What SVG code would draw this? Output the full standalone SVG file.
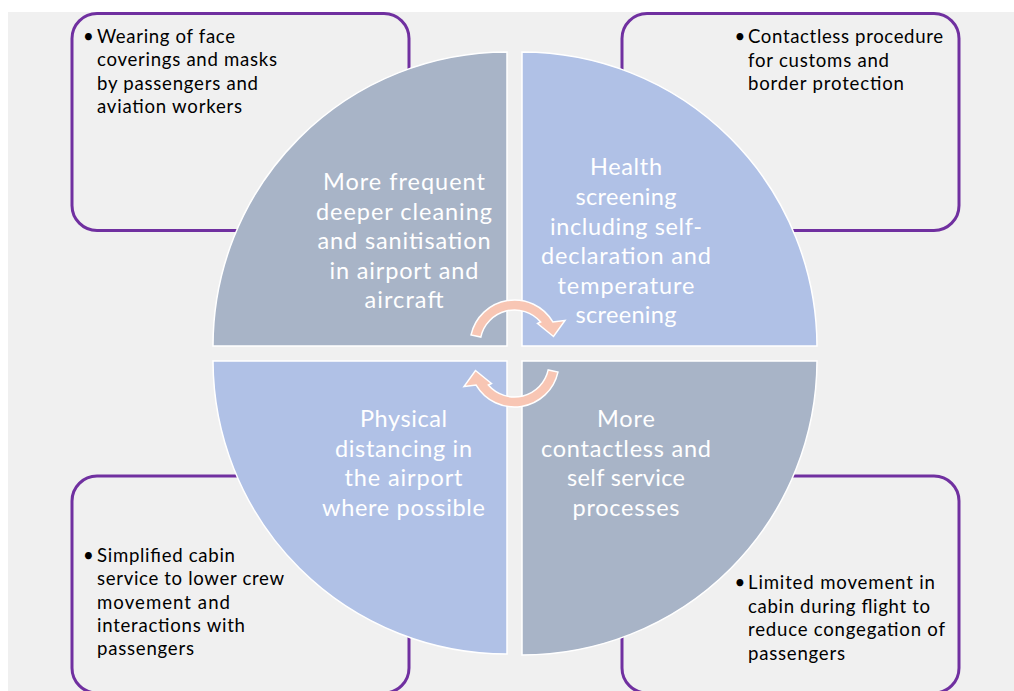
<svg xmlns="http://www.w3.org/2000/svg" width="1014" height="691" viewBox="0 0 1014 691">
<defs>
<style>
.bg{fill:#f0f0f0}
.box{fill:#f0f0f0;stroke:#7030a0;stroke-width:3}
.q1{fill:#a8b4c7;stroke:#ffffff;stroke-width:1.5}
.q2{fill:#b0c1e6;stroke:#ffffff;stroke-width:1.5}
.arr{fill:#f8c6b4;stroke:#ffffff;stroke-width:1.5}
.bt{font-family:Lato,"Liberation Sans",sans-serif;font-size:18.6px;fill:#000000}
.ct{font-family:Lato,"Liberation Sans",sans-serif;font-size:23.5px;fill:#ffffff;text-anchor:middle}
</style>
</defs>
<rect class="bg" x="8" y="12" width="1006" height="679"/>

<g id="box-tl">
<rect class="box" x="72" y="13.5" width="337" height="217" rx="25"/>
<text class="bt" x="88.5" y="43" text-anchor="middle">•</text>
<text class="bt" x="97" y="43" textLength="138">Wearing of face</text>
<text class="bt" x="97" y="66.3" textLength="180">coverings and masks</text>
<text class="bt" x="97" y="89.6" textLength="161">by passengers and</text>
<text class="bt" x="97" y="113" textLength="145">aviation workers</text>
</g>

<g id="box-tr">
<rect class="box" x="622" y="13.5" width="337" height="217" rx="25"/>
<text class="bt" x="740" y="43" text-anchor="middle">•</text>
<text class="bt" x="748" y="43" textLength="195">Contactless procedure</text>
<text class="bt" x="748" y="66.5" textLength="141">for customs and</text>
<text class="bt" x="748" y="90" textLength="156">border protection</text>
</g>

<g id="box-bl">
<rect class="box" x="72" y="476" width="337" height="217" rx="25"/>
<text class="bt" x="88.5" y="562" text-anchor="middle">•</text>
<text class="bt" x="97" y="562" textLength="138">Simplified cabin</text>
<text class="bt" x="97" y="585.3" textLength="187">service to lower crew</text>
<text class="bt" x="97" y="608.7" textLength="133">movement and</text>
<text class="bt" x="97" y="632" textLength="148">interactions with</text>
<text class="bt" x="97" y="655.3" textLength="97">passengers</text>
</g>

<g id="box-br">
<rect class="box" x="622" y="476" width="337" height="217" rx="25"/>
<text class="bt" x="740" y="589" text-anchor="middle">•</text>
<text class="bt" x="748" y="589" textLength="187">Limited movement in</text>
<text class="bt" x="748" y="612.7" textLength="182">cabin during flight to</text>
<text class="bt" x="748" y="636" textLength="197">reduce congegation of</text>
<text class="bt" x="748" y="660" textLength="97">passengers</text>
</g>

<g id="quad-tl">
<path class="q1" d="M507,346 L213,346 A294,294 0 0 1 507,52 Z"/>
<text class="ct" x="404" y="190" textLength="162">More frequent</text>
<text class="ct" x="404" y="219.5" textLength="176">deeper cleaning</text>
<text class="ct" x="404" y="249" textLength="173">and sanitisation</text>
<text class="ct" x="404" y="278.5" textLength="149">in airport and</text>
<text class="ct" x="404" y="308" textLength="79">aircraft</text>
</g>

<g id="quad-tr">
<path class="q2" d="M522,346 L522,52 A295,295 0 0 1 817,346 Z"/>
<text class="ct" x="626" y="175" textLength="72">Health</text>
<text class="ct" x="626" y="205" textLength="101">screening</text>
<text class="ct" x="626" y="234.5" textLength="152">including self-</text>
<text class="ct" x="626" y="264" textLength="170">declaration and</text>
<text class="ct" x="626" y="293.5" textLength="137">temperature</text>
<text class="ct" x="626" y="323" textLength="101">screening</text>
</g>

<g id="quad-bl">
<path class="q2" d="M507,361 L507,654 A294,294 0 0 1 213,361 Z"/>
<text class="ct" x="403.5" y="427" textLength="87">Physical</text>
<text class="ct" x="403.5" y="456.5" textLength="137">distancing in</text>
<text class="ct" x="403.5" y="486" textLength="118">the airport</text>
<text class="ct" x="403.5" y="515.5" textLength="163">where possible</text>
</g>

<g id="quad-br">
<path class="q1" d="M522,361 L817,361 A295,295 0 0 1 522,655 Z"/>
<text class="ct" x="626" y="427" textLength="58">More</text>
<text class="ct" x="626" y="456.5" textLength="170">contactless and</text>
<text class="ct" x="626" y="486" textLength="118">self service</text>
<text class="ct" x="626" y="515.5" textLength="107">processes</text>
</g>

<g id="connectors">
<path id="arrow-top" class="arr" d="M471.04,334.95 A44.5,44.5 0 0 1 552.88,321.98 L565,320.5 L553.5,336.5 L537.5,323.5 L540.65,322 A34.5,34.5 0 0 0 480.8,337.09 Z"/>
<path id="arrow-bottom" class="arr" transform="rotate(180 514.5 353.5)" d="M471.04,334.95 A44.5,44.5 0 0 1 552.88,321.98 L565,320.5 L553.5,336.5 L537.5,323.5 L540.65,322 A34.5,34.5 0 0 0 480.8,337.09 Z"/>
</g>
</svg>
